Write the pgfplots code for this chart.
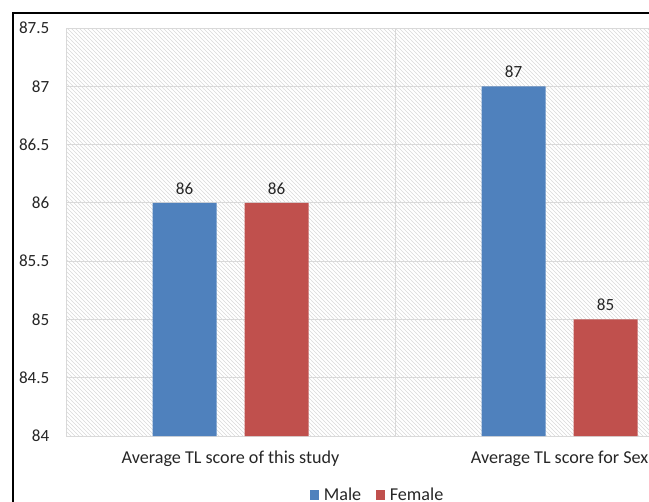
\documentclass[border=0pt]{standalone}
\usepackage{fontspec}
\setmainfont{Carlito}
\usepackage{pgfplots}
\pgfplotsset{compat=1.18}
\usetikzlibrary{patterns}

\definecolor{mblue}{HTML}{4F81BD}
\definecolor{mred}{HTML}{C0504D}
\definecolor{gridgray}{HTML}{D9D9D9}
\definecolor{txt}{HTML}{262626}

\begin{document}
\begin{tikzpicture}[x=0.75pt,y=0.75pt]
\useasboundingbox (0,0) rectangle (649,501);
\clip (0,0) rectangle (649,501);
% outer chart frame
\draw[black, line width=1pt] (13,-20) -- (13,488) -- (700,488);
\begin{axis}[
  at={(49.5pt,48.75pt)}, anchor=south west,
  scale only axis, width=493.5pt, height=306pt,
  axis background/.style={pattern=north west lines, pattern color=gridgray},
  xmin=-0.5, xmax=1.5, ymin=84, ymax=87.5,
  xtick={0,1},
  xticklabels={Average TL score of this study, Average TL score for Sex},
  extra x ticks={-0.5,0.5}, extra x tick labels={},
  extra x tick style={grid=major, major grid style={gridgray, line width=0.75pt}},
  ytick={84,84.5,...,87.5},
  ymajorgrids, major grid style={gridgray, line width=0.75pt},
  axis line style={draw=none},
  major tick length=0pt,
  /pgf/number format/assume math mode=true,
  ticklabel style={font=\fontsize{12.8}{15}\selectfont, text=txt},
  yticklabel style={xshift=-9pt},
  xticklabel style={font=\fontsize{13.6}{16}\selectfont, yshift=-8pt},
  ybar=21pt, bar width=48pt,
  nodes near coords,
  every node near coord/.append style={font=\fontsize{12.8}{15}\selectfont, text=txt, yshift=3pt},
  legend columns=2,
  legend style={draw=none, fill=none, at={(0.474,0)}, anchor=north, yshift=-34.5pt,
    font=\fontsize{13.6}{16}\selectfont, text=txt,
    /tikz/every even column/.append style={column sep=9pt}},
  legend image code/.code={\fill[#1] (0pt,-3.5pt) rectangle (7pt,3.5pt);},
]
\addplot[fill=mblue, draw=none] coordinates {(0,86) (1,87)};
\addplot[fill=mred, draw=none] coordinates {(0,86) (1,85)};
\legend{\hspace{1.5pt}Male, \hspace{1.5pt}Female}
\end{axis}
\end{tikzpicture}
\end{document}
